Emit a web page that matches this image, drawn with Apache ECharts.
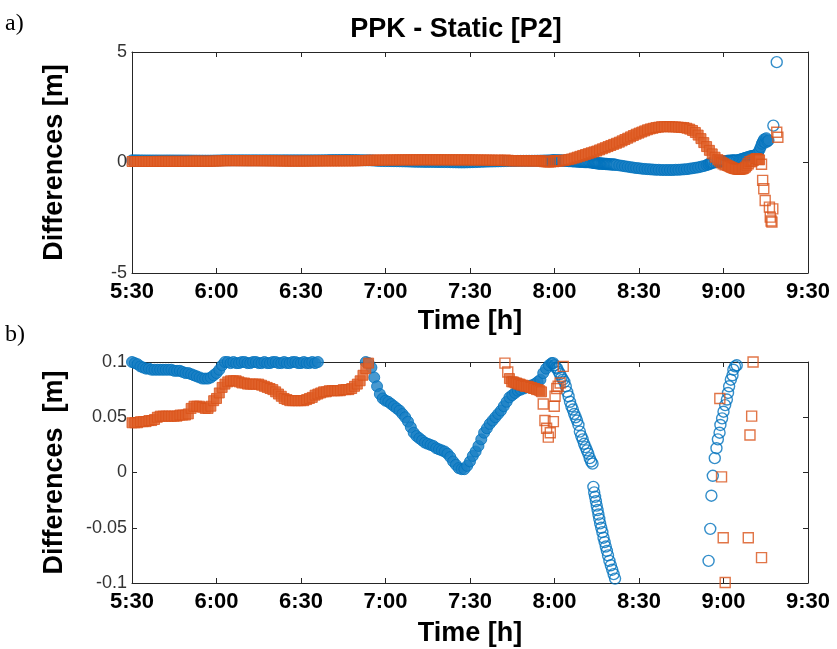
<!DOCTYPE html>
<html>
<head>
<meta charset="utf-8">
<script src="https://cdn.jsdelivr.net/npm/echarts@6/dist/echarts.min.js"></script>
<style>
html,body{margin:0;padding:0;background:#fff;}
#chart{width:837px;height:649px;}
</style>
</head>
<body>
<div id="chart"></div>
<script>
// Time in minutes after 5:30, differences in metres
const xTickLabels = ['5:30','6:00','6:30','7:00','7:30','8:00','8:30','9:00','9:30'];
const topYTickLabels = ['-5','0','5'];
const bottomYTickLabels = ['-0.1','-0.05','0','0.05','0.1'];

const blueDiff = [
[0,0.100],[1,0.099],[2,0.098],[3,0.096],[4,0.095],[5,0.094],[6,0.094],[7,0.093],[8,0.093],[9,0.093],
[10,0.093],[11,0.093],[12,0.093],[13,0.093],[14,0.093],[15,0.092],[16,0.092],[17,0.092],[18,0.091],[19,0.090],
[20,0.090],[21,0.089],[22,0.088],[23,0.087],[24,0.086],[25,0.085],[26,0.085],[27,0.085],[28,0.086],[29,0.088],
[30,0.090],[31,0.093],[32,0.097],[33,0.100],[34,0.100],[35,0.099],[36,0.100],[37,0.099],[38,0.099],[39,0.100],
[40,0.100],[41,0.099],[42,0.099],[43,0.100],[44,0.100],[45,0.099],[46,0.099],[47,0.100],[48,0.099],[49,0.099],
[50,0.100],[51,0.100],[52,0.099],[53,0.099],[54,0.100],[55,0.099],[56,0.099],[57,0.100],[58,0.100],[59,0.099],
[60,0.099],[61,0.100],[62,0.099],[63,0.099],[64,0.100],[65,0.099],[66,0.100],
[67,0.102],[68,0.104],[69,0.106],[70,0.108],[71,0.110],[72,0.112],[73,0.113],[74,0.114],[75,0.115],[76,0.115],
[77,0.114],[78,0.113],[79,0.111],[80,0.108],[81,0.105],[82,0.102],
[83,0.100],[84,0.099],[85,0.095],[86,0.086],[87,0.078],[88,0.071],[89,0.067],[90,0.065],[91,0.064],[92,0.062],
[93,0.060],[94,0.058],[95,0.056],[96,0.053],[97,0.050],[98,0.046],[99,0.041],[100,0.036],[101,0.033],[102,0.031],
[103,0.029],[104,0.027],[105,0.026],[106,0.025],[107,0.024],[108,0.022],[109,0.021],[110,0.020],[111,0.019],[112,0.017],
[113,0.014],[114,0.010],[115,0.007],[116,0.004],[117,0.003],[118,0.003],
[119,0.006],[120,0.010],[121,0.015],[122,0.019],[123,0.024],[124,0.030],[125,0.036],[126,0.040],[127,0.044],[128,0.047],
[129,0.050],[130,0.053],[131,0.056],[132,0.060],[133,0.064],[134,0.068],[135,0.070],[136,0.072],[137,0.074],[138,0.075],
[139,0.076],[140,0.077],[141,0.078],[142,0.079],[143,0.080],[144,0.082],[145,0.084],[146,0.090],[147,0.094],[148,0.097],
[149,0.099],[149.5,0.099],[150,0.097],[150.5,0.095],[151,0.094],[151.5,0.091],[152,0.089],[152.5,0.086],[153,0.084],[153.5,0.082],
[154,0.078],[154.5,0.073],[155,0.069],[155.5,0.064],[156,0.060],[156.5,0.057],[157,0.053],[157.5,0.050],[158,0.047],[158.5,0.043],
[159,0.037],[159.5,0.033],[160,0.030],[160.5,0.026],[161,0.023],[161.5,0.020],[162,0.017],[162.5,0.013],[163,0.010],[163.5,0.008],
[163.8,-0.013],[164.1,-0.018],[164.4,-0.022],[164.7,-0.026],[165,-0.030],[165.3,-0.034],[165.6,-0.038],[165.9,-0.042],[166.2,-0.046],[166.6,-0.050],
[167,-0.054],[167.4,-0.059],[167.8,-0.063],[168.2,-0.067],[168.6,-0.071],[169,-0.075],[169.5,-0.080],[170,-0.084],[170.5,-0.088],[171,-0.092],
[171.5,-0.096],
[172,-0.11],[173,-0.13],[174,-0.15],[175,-0.17],[176,-0.19],[177,-0.21],[178,-0.23],[179,-0.25],[180,-0.26],[181,-0.28],
[182,-0.29],[183,-0.30],[184,-0.31],[185,-0.32],[186,-0.33],[187,-0.33],[188,-0.34],[189,-0.34],[190,-0.34],[191,-0.34],
[192,-0.34],[193,-0.33],[194,-0.33],[195,-0.32],[196,-0.31],[197,-0.30],[198,-0.28],[199,-0.26],[200,-0.24],[201,-0.22],
[202,-0.19],[203,-0.16],[204,-0.12],
[204.7,-0.080],[205.3,-0.051],[205.7,-0.021],[206.2,-0.003],[206.9,0.013],[207.5,0.022],[208,0.030],[208.6,0.036],[208.9,0.043],[209.5,0.049],
[210,0.055],[210.6,0.061],[211.2,0.066],[211.6,0.072],[212,0.078],[212.6,0.084],[213.2,0.088],[213.5,0.093],[214.1,0.096],[214.7,0.097],
[215.3,0.11],[215.8,0.13],[216.3,0.15],[216.8,0.17],[217.3,0.19],[217.8,0.21],[218.3,0.23],[218.8,0.25],[219.3,0.27],[219.8,0.29],
[220.3,0.30],[220.8,0.31],[221.3,0.32],[221.8,0.36],[222.3,0.45],[222.8,0.58],[223.2,0.70],[223.6,0.85],[224,0.95],[224.4,1.05],
[224.8,0.90],[225.2,1.10],[225.6,0.95],[226,1.00],[227.7,1.67],[228.9,4.54]
];

const orangeDiff = [
[0,0.045],[1,0.045],[2,0.045],[3,0.046],[4,0.046],[5,0.046],[6,0.047],[7,0.047],[8,0.048],[9,0.050],
[10,0.051],[11,0.051],[12,0.051],[13,0.051],[14,0.051],[15,0.051],[16,0.051],[17,0.052],[18,0.052],[19,0.052],
[20,0.053],[21,0.058],[22,0.060],[23,0.060],[24,0.060],[25,0.059],[26,0.058],[27,0.058],[28,0.060],[29,0.065],
[30,0.067],[31,0.072],[32,0.077],[33,0.080],[34,0.082],[35,0.083],[36,0.083],[37,0.083],[38,0.082],[39,0.081],
[40,0.081],[41,0.080],[42,0.080],[43,0.080],[44,0.080],[45,0.080],[46,0.079],[47,0.078],[48,0.077],[49,0.076],
[50,0.075],[51,0.073],[52,0.071],[53,0.069],[54,0.067],[55,0.066],[56,0.065],[57,0.065],[58,0.065],[59,0.065],
[60,0.065],[61,0.065],[62,0.066],[63,0.067],[64,0.068],[65,0.070],[66,0.071],[67,0.072],[68,0.073],[69,0.073],
[70,0.074],[71,0.074],[72,0.074],[73,0.074],[74,0.074],[75,0.075],[76,0.075],[77,0.075],[78,0.076],[79,0.078],
[80,0.080],[81,0.083],[82,0.088],[83,0.094],[84,0.099],
[85,0.102],[86,0.105],[87,0.107],[88,0.109],[89,0.110],[90,0.112],[91,0.113],[92,0.114],[93,0.115],[94,0.116],
[95,0.117],[96,0.118],[97,0.119],[98,0.119],[99,0.120],[100,0.120],[101,0.121],[102,0.121],[103,0.122],[104,0.122],
[105,0.122],[106,0.122],[107,0.122],[108,0.122],[109,0.121],[110,0.121],[111,0.121],[112,0.120],[113,0.120],[114,0.120],
[115,0.119],[116,0.119],[117,0.119],[118,0.118],[119,0.118],[120,0.117],[121,0.116],[122,0.115],[123,0.114],[124,0.113],
[125,0.112],[126,0.110],[127,0.109],[128,0.107],[129,0.105],[130,0.104],[131,0.102],
[132.4,0.099],[133.4,0.091],[134,0.085],[134.8,0.082],[135.4,0.082],[136,0.081],[136.6,0.081],[137.2,0.080],[137.8,0.080],[138.3,0.079],
[138.9,0.079],[139.5,0.078],[140.1,0.078],[140.7,0.078],[141.3,0.077],[141.9,0.077],[142.5,0.076],[143,0.076],[143.6,0.075],[144.2,0.075],
[144.8,0.074],[145.4,0.073],[146,0.062],[146.6,0.047],[147.2,0.040],[147.8,0.032],[148.5,0.036],[149.6,0.046],[149.9,0.060],[150.2,0.069],
[150.8,0.076],[151.3,0.078],[152,0.081],[153.1,0.096],
[154,0.11],[155,0.13],[156,0.16],[157,0.20],[158,0.24],[159,0.28],[160,0.32],[161,0.36],[162,0.40],[163,0.44],
[164,0.48],[165,0.52],[166,0.57],[167,0.62],[168,0.67],[169,0.72],[170,0.77],[171,0.82],[172,0.87],[173,0.92],
[174,0.98],[175,1.04],[176,1.10],[177,1.16],[178,1.22],[179,1.28],[180,1.33],[181,1.38],[182,1.43],[183,1.48],
[184,1.52],[185,1.55],[186,1.58],[187,1.60],[188,1.62],[189,1.62],[190,1.62],[191,1.62],[192,1.61],[193,1.61],
[194,1.60],[195,1.59],[196,1.58],[197,1.55],[198,1.51],[199,1.45],[200,1.36],[201,1.24],[202,1.08],[203,0.90],
[204,0.72],[205,0.55],[206,0.39],[207,0.24],[208,0.13],
[208.7,0.067],[209.3,-0.004],[209.9,-0.059],[210.6,-0.0995],
[211.3,-0.13],[211.8,-0.16],[212.3,-0.19],[212.8,-0.22],[213.3,-0.25],[213.8,-0.27],[214.3,-0.29],[214.8,-0.30],[215.3,-0.31],[215.8,-0.31],
[216.3,-0.30],[216.8,-0.29],[217.3,-0.26],[217.8,-0.21],[218.3,-0.14],
[218.8,-0.059],[219.4,0.034],[220,0.051],[220.5,0.100],[221.2,0.15],[221.6,0.18],[222,0.17],[222.4,0.14],[222.8,0.12],[223.5,-0.077],
[223.9,-0.81],[224.3,-1.19],[224.8,-1.72],[226.3,-2.02],[227.5,-2.10],[226.6,-2.47],[226.9,-2.65],[227.2,-2.70],[228.9,1.37],[229.3,1.14]
];

// Time spans (minutes after 5:30) where the recorded markers pile up into a solid band
const blueDenseSpans = [[0, 149.2], [172, 204.3], [215, 226.5]];
const orangeDenseSpans = [[0, 131.5], [134, 145.5], [154, 208.3], [211, 218.4], [221, 222.9]];

const BLUE = '#0072BD';
const ORANGE = '#D95319';
const BLUE_FILL = '#1a7fc4';
const ORANGE_FILL = '#e0622a';
const AXIS = '#262626';
const FONT = '"Liberation Sans", Arial, sans-serif';

const chart = echarts.init(document.getElementById('chart'), null, {renderer: 'canvas'});

function xAxisMain(gridIndex, nameGap) {
  return {
    type: 'value', gridIndex: gridIndex, min: 0, max: 240, interval: 30, position: 'bottom',
    axisLine: {show: true, onZero: false, lineStyle: {color: AXIS, width: 1}},
    axisTick: {show: true, inside: true, length: 5, lineStyle: {color: AXIS}},
    splitLine: {show: false},
    axisLabel: {
      fontFamily: FONT, fontWeight: 'bold', fontSize: 22, color: '#000', margin: 8,
      formatter: v => xTickLabels[Math.round(v / 30)]
    },
    name: 'Time [h]', nameLocation: 'middle', nameGap: nameGap,
    nameTextStyle: {fontFamily: FONT, fontWeight: 'bold', fontSize: 27, color: '#000'}
  };
}
function xAxisBox(gridIndex) {
  return {
    type: 'value', gridIndex: gridIndex, min: 0, max: 240, interval: 30, position: 'top',
    axisLine: {show: true, onZero: false, lineStyle: {color: AXIS, width: 1}},
    axisTick: {show: true, inside: true, length: 5, lineStyle: {color: AXIS}},
    axisLabel: {show: false}, splitLine: {show: false}
  };
}
function yAxisMain(gridIndex, min, max, interval, labels, name) {
  return {
    type: 'value', gridIndex: gridIndex, min: min, max: max, interval: interval, position: 'left',
    axisLine: {show: true, onZero: false, lineStyle: {color: AXIS, width: 1}},
    axisTick: {show: true, inside: true, length: 5, lineStyle: {color: AXIS}},
    splitLine: {show: false},
    axisLabel: {
      fontFamily: FONT, fontSize: 18, color: '#333', margin: 5,
      formatter: v => labels[Math.round((v - min) / interval)]
    },
    name: name, nameLocation: 'middle', nameGap: 64, nameRotate: 90,
    nameTextStyle: {fontFamily: FONT, fontWeight: 'bold', fontSize: 27, color: '#000'}
  };
}
function yAxisBox(gridIndex, min, max, interval) {
  return {
    type: 'value', gridIndex: gridIndex, min: min, max: max, interval: interval, position: 'right',
    axisLine: {show: true, onZero: false, lineStyle: {color: AXIS, width: 1}},
    axisTick: {show: true, inside: true, length: 5, lineStyle: {color: AXIS}},
    axisLabel: {show: false}, splitLine: {show: false}
  };
}
function styled(data, spans, fill, stroke) {
  return data.map(p => {
    const dense = spans.some(s => p[0] >= s[0] && p[0] <= s[1]);
    return {
      value: [p[0], p[1]],
      itemStyle: dense ? {color: fill, borderColor: stroke, borderWidth: 1}
                       : {color: 'rgba(255,255,255,0)', borderColor: stroke, borderWidth: 1.4}
    };
  });
}
function scatter(data, xi, yi, symbol, size) {
  return {
    type: 'scatter', xAxisIndex: xi, yAxisIndex: yi, data: data, clip: true,
    symbol: symbol, symbolSize: size, silent: true, animation: false, large: false
  };
}

const option = {
  backgroundColor: '#fff',
  animation: false,
  title: {
    text: 'PPK - Static [P2]', left: 451, textAlign: 'center', top: 11,
    textStyle: {fontFamily: FONT, fontWeight: 'bold', fontSize: 27, color: '#000'}
  },
  graphic: [
    {type: 'text', left: 5, top: 12, style: {text: 'a)', font: '24px "Liberation Serif", "DejaVu Serif", serif', fill: '#000'}},
    {type: 'text', left: 5, top: 323, style: {text: 'b)', font: '24px "Liberation Serif", "DejaVu Serif", serif', fill: '#000'}}
  ],
  grid: [
    {left: 132, right: 29, top: 52, height: 221, containLabel: false},
    {left: 132, right: 29, top: 362, height: 221, containLabel: false}
  ],
  xAxis: [xAxisMain(0, 35), xAxisBox(0), xAxisMain(1, 37), xAxisBox(1)],
  yAxis: [
    yAxisMain(0, -5, 5, 5, topYTickLabels, 'Differences [m]'), yAxisBox(0, -5, 5, 5),
    yAxisMain(1, -0.1, 0.1, 0.05, bottomYTickLabels, 'Differences  [m]'), yAxisBox(1, -0.1, 0.1, 0.05)
  ],
  series: [
    scatter(styled(blueDiff, blueDenseSpans, BLUE_FILL, BLUE), 0, 0, 'circle', 11),
    scatter(styled(orangeDiff, orangeDenseSpans, ORANGE_FILL, ORANGE), 0, 0, 'rect', 10),
    scatter(styled(blueDiff, blueDenseSpans, BLUE_FILL, BLUE), 2, 2, 'circle', 11),
    scatter(styled(orangeDiff, orangeDenseSpans, ORANGE_FILL, ORANGE), 2, 2, 'rect', 10)
  ]
};
chart.setOption(option);
</script>
</body>
</html>
